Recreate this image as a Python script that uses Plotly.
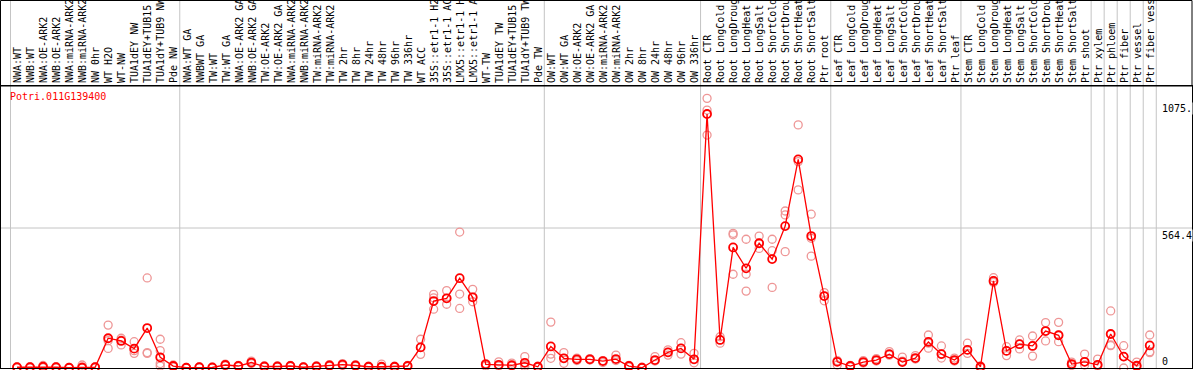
import plotly.graph_objects as go

# labels as visible in the header (long names are cut at the top edge there)
labels = [
    "NWA:WT", "NWB:WT", "NWA:OE-ARK2", "NWB:OE-ARK2", "NWA:miRNA-ARK2", "NWB:miRNA-ARK2",
    "NW 0hr", "WT H2O", "WT-NW", "TUA1dEY NW", "TUA1dEY+TUB15", "TUA1dY+TUB9 NW", "Pde NW",
    "NWA:WT GA", "NWBWT GA", "TW:WT", "TW:WT GA", "NWA:OE-ARK2 GA", "NWB:OE-ARK2 GA",
    "TW:OE-ARK2", "TW:OE-ARK2 GA", "NWA:miRNA-ARK2", "NWB:miRNA-ARK2", "TW:miRNA-ARK2",
    "TW:miRNA-ARK2", "TW 2hr", "TW 8hr", "TW 24hr", "TW 48hr", "TW 96hr", "TW 336hr",
    "WT ACC", "35S::etr1-1 H2", "35S::etr1-1 AC", "LMX5::etr1-1 H", "LMX5::etr1-1 A",
    "WT-TW", "TUA1dEY TW", "TUA1dEY+TUB15", "TUA1dY+TUB9 TW", "Pde TW",
    "OW:WT", "OW:WT GA", "OW:OE-ARK2", "OW:OE-ARK2 GA", "OW:miRNA-ARK2", "OW:miRNA-ARK2",
    "OW 2hr", "OW 8hr", "OW 24hr", "OW 48hr", "OW 96hr", "OW 336hr",
    "Root CTR", "Root LongCold", "Root LongDroug", "Root LongHeat", "Root LongSalt",
    "Root ShortCold", "Root ShortDrou", "Root ShortHeat", "Root ShortSalt", "Ptr root",
    "Leaf CTR", "Leaf LongCold", "Leaf LongDroug", "Leaf LongHeat", "Leaf LongSalt",
    "Leaf ShortCold", "Leaf ShortDrou", "Leaf ShortHeat", "Leaf ShortSalt", "Ptr leaf",
    "Stem CTR", "Stem LongCold", "Stem LongDroug", "Stem LongHeat", "Stem LongSalt",
    "Stem ShortCold", "Stem ShortDrou", "Stem ShortHeat", "Stem ShortSalt", "Ptr shoot",
    "Ptr xylem", "Ptr phloem", "Ptr fiber", "Ptr vessel", "Ptr fiber vess",
]

means = [
    3, 3, 5, 3, 1, 2, 3, 120, 109, 78, 161, 43, 8,
    1, 3, 2, 12, 8, 22, 6, 6, 8, 3, 6, 10, 14, 10, 5, 5, 5, 8,
    83, 270, 281, 362, 285, 15, 13, 11, 21, 5,
    87, 39, 35, 35, 28, 36, 8, 1, 32, 63, 79, 35,
    1024, 113, 486, 402, 503, 439, 572, 841, 532, 290,
    25, 8, 24, 32, 56, 24, 40, 105, 56, 32,
    73, 5, 351, 69, 96, 89, 149, 132, 16, 25,
    13, 137, 46, 9, 91,
]

replicates = [
    [2, 4], [2, 5], [10, 3, 2], [5, 2], [0, 2], [12, 0], [4, 2],
    [173, 110, 79], [120, 112, 93], [106, 70, 59], [363, 62, 59], [116, 70, 18, 8], [12, 5, 6],
    [2, 0], [4, 2], [3, 1], [16, 9], [10, 6], [28, 18], [8, 4], [8, 4], [10, 6], [4, 2],
    [8, 4], [14, 7], [18, 10], [13, 7], [7, 3], [16, 2], [7, 3], [10, 6],
    [116, 83, 55], [297, 283, 237], [312, 281, 257], [548, 298, 240], [317, 285, 267],
    [18, 8], [25, 8], [20, 8], [46, 12, 5], [7, 3],
    [185, 56, 39], [62, 39, 19], [40, 30], [38, 32], [30, 22], [52, 30], [10, 5], [3, 0],
    [46, 28], [73, 63, 52], [102, 79, 56], [59, 35, 21],
    [1087, 1040, 939], [126, 113, 100], [543, 537, 378], [519, 378, 310], [532, 503, 482],
    [519, 473, 325], [633, 617, 469], [980, 832, 718], [620, 523, 451], [304, 290, 271],
    [30, 12], [10, 5], [30, 20], [38, 28], [66, 52], [44, 28], [50, 36], [133, 100, 80],
    [89, 56, 40], [40, 28],
    [100, 73, 59], [8, 3], [364, 351, 345], [86, 69, 50], [113, 96, 77], [129, 89, 48],
    [183, 149, 109], [184, 132, 106], [24, 10], [56, 25, 12],
    [36, 13, 8], [230, 93, 90], [90, 46, 0], [24, 9, 5], [133, 66, 62],
]

# group separator positions (between category indices)
group_bounds = [-0.5, 12.5, 40.5, 52.5, 62.5, 72.5, 82.5, 83.5, 84.5, 85.5, 86.5, 87.5]
gene = "Potri.011G139400"
y_label_vals = [1075.0, 564.4, 0]
y_label_text = ["1075.", "564.4", "0"]
y_grid = [564.4]

W, H = 1194, 370
ML, MR, MT, MB = 1, 2, 86, 2
PW, PH = W - ML - MR, H - MT - MB
YMAX = 564.4 * PH / 140.0
STEP = 13.02
X0 = -(17 - ML) / STEP
X1 = X0 + PW / STEP

def px_x(px):
    return (px - ML) / PW

def px_y(py):
    return (H - MB - py) / PH

xs = list(range(len(labels)))
rx, ry = [], []
for i, reps in enumerate(replicates):
    for v in reps:
        rx.append(i)
        ry.append(v)

FONT = "DejaVu Sans Mono"
fig = go.Figure()
fig.add_trace(go.Scatter(
    x=rx, y=ry, mode="markers", cliponaxis=False,
    marker=dict(symbol="circle-open", size=8, color="rgb(238,150,150)", line=dict(width=1.3)),
    hoverinfo="skip", showlegend=False))
fig.add_trace(go.Scatter(
    x=xs, y=means, mode="lines+markers", cliponaxis=False,
    line=dict(color="red", width=1.3),
    marker=dict(symbol="circle-open", size=8, color="red", line=dict(width=1.8)),
    hoverinfo="skip", showlegend=False))

shapes = []
for b in group_bounds:
    shapes.append(dict(type="line", xref="x", yref="paper", x0=b, x1=b,
                       y0=0, y1=px_y(0), line=dict(color="#c4c4c4", width=1), layer="below"))
for g in y_grid:
    shapes.append(dict(type="line", xref="paper", yref="y", x0=0, x1=1, y0=g, y1=g,
                       line=dict(color="#c4c4c4", width=1), layer="below"))
# header frame
shapes.append(dict(type="rect", xref="paper", yref="paper",
                   x0=px_x(0.5), x1=px_x(1192), y0=1, y1=px_y(0.5),
                   line=dict(color="black", width=1)))

annotations = [dict(text=gene, xref="paper", yref="paper", x=px_x(8), y=px_y(89),
                    xanchor="left", yanchor="top", showarrow=False,
                    font=dict(family=FONT, size=10, color="red"))]
for v, t in zip(y_label_vals, y_label_text):
    annotations.append(dict(text=t, xref="paper", yref="y", x=px_x(1161), y=v,
                            xanchor="left", yanchor="bottom" if v == 0 else "top",
                            showarrow=False, bgcolor="white", borderpad=0,
                            yshift=-1 if v != 0 else 0,
                            font=dict(family=FONT, size=10, color="black")))

fig.update_layout(
    width=W, height=H, margin=dict(l=ML, r=MR, t=MT, b=MB),
    paper_bgcolor="white", plot_bgcolor="white",
    shapes=shapes, annotations=annotations,
    xaxis=dict(range=[X0, X1], side="top", tickmode="array", tickvals=xs, ticktext=labels,
               tickangle=-90, ticks="", showgrid=False, zeroline=False, automargin=False,
               ticklabelshift=1,
               tickfont=dict(family=FONT, size=10, color="black"),
               showline=True, mirror=True, linecolor="black", linewidth=1),
    yaxis=dict(range=[0, YMAX], showticklabels=False, ticks="", showgrid=False,
               zeroline=False, automargin=False,
               showline=True, mirror=True, linecolor="black", linewidth=1),
)

fig.write_html("out.html", config={"displayModeBar": False},
               post_script="document.body.style.margin='0';")
